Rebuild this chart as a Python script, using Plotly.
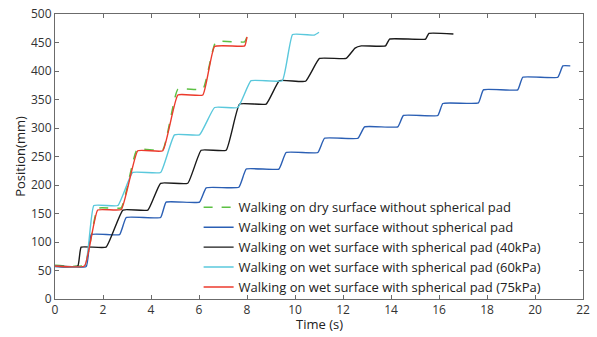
import plotly.graph_objects as go

# ---- data ----
t_dry = [0, 1.23, 1.78, 2.76, 3.42, 4.49, 5.12, 6.16, 6.70, 7.90, 8.0]
y_dry = [59, 59, 159, 160, 262, 262, 368, 368, 451, 451, 460]

t_wet = [0, 1.30, 1.51, 2.69, 2.97, 4.40, 4.63, 6.02, 6.30, 7.66, 7.97, 9.33,
         9.63, 10.95, 11.23, 12.62, 12.90, 14.28, 14.52, 15.95, 16.16, 17.64,
         17.85, 19.28, 19.49, 20.95, 21.16, 21.47]
y_wet = [57, 57, 113, 113, 143, 143, 170, 170, 195, 196, 228, 228,
         257, 257, 282, 282, 302, 302, 322, 322, 343, 344,
         367, 367, 389, 389, 409, 409]

t_40 = [0, 0.95, 1.09, 2.13, 2.83, 3.87, 4.40, 5.53, 6.09, 7.13, 7.69, 8.80,
        9.35, 10.44, 11.02, 12.13, 12.50, 12.76, 13.77, 13.94, 15.44, 15.58, 16.60]
y_40 = [58, 58, 91, 91, 156, 156, 203, 203, 261, 261, 342, 342,
        383, 382, 422, 422, 440, 444, 444, 456, 456, 466, 465]

t_60 = [0, 1.25, 1.62, 2.62, 3.24, 4.40, 4.98, 6.02, 6.65, 7.62, 8.17, 9.47,
        9.90, 10.80, 11.00]
y_60 = [58, 58, 164, 164, 222, 222, 288, 288, 336, 336, 383, 383,
        464, 463, 468]

t_75 = [0, 1.23, 1.78, 2.76, 3.45, 4.49, 5.12, 6.16, 6.65, 7.90, 8.0]
y_75 = [58, 58, 156, 157, 260, 260, 358, 358, 443, 444, 460]

names = [
    "Walking on dry surface without spherical pad",
    "Walking on wet surface without spherical pad",
    "Walking on wet surface with spherical pad (40kPa)",
    "Walking on wet surface with spherical pad (60kPa)",
    "Walking on wet surface with spherical pad (75kPa)",
]
x_ticks = list(range(0, 23, 2))
y_ticks = list(range(0, 501, 50))
x_title = "Time (s)"
y_title = "Position(mm)"

FONT = "Open Sans, Liberation Sans, Arial, sans-serif"
SHAPE = dict(shape="spline", smoothing=0.35)

fig = go.Figure()
fig.add_trace(go.Scatter(x=t_dry, y=y_dry, mode="lines", name=names[0],
                         line=dict(color="#5cc043", width=1.5, dash="dash", **SHAPE)))
fig.add_trace(go.Scatter(x=t_wet, y=y_wet, mode="lines", name=names[1],
                         line=dict(color="#2b5fb4", width=1.4, **SHAPE)))
fig.add_trace(go.Scatter(x=t_40, y=y_40, mode="lines", name=names[2],
                         line=dict(color="#1a1a1a", width=1.4, **SHAPE)))
fig.add_trace(go.Scatter(x=t_60, y=y_60, mode="lines", name=names[3],
                         line=dict(color="#5ac8dc", width=1.4, **SHAPE)))
fig.add_trace(go.Scatter(x=t_75, y=y_75, mode="lines", name=names[4],
                         line=dict(color="#ec3a2c", width=1.4, **SHAPE)))

axis_common = dict(
    showline=True, linecolor="#6b6b6b", linewidth=1, mirror="ticks",
    ticks="inside", ticklen=4, tickcolor="#6b6b6b", showgrid=False,
    zeroline=False, automargin=False,
    tickfont=dict(family=FONT, size=12, color="#333333"),
)

fig.update_layout(
    width=597, height=337,
    margin=dict(l=55, r=14, t=14, b=38),
    paper_bgcolor="white", plot_bgcolor="white",
    font=dict(family=FONT, color="#222222"),
    xaxis=dict(range=[0, 22], tickvals=x_ticks, **axis_common),
    yaxis=dict(range=[0, 500], tickvals=y_ticks,
               title=dict(text=y_title, font=dict(size=13, family=FONT), standoff=2),
               **axis_common),
    legend=dict(x=0.272, y=-0.012, xanchor="left", yanchor="bottom",
                bgcolor="rgba(255,255,255,0)", borderwidth=0,
                font=dict(family=FONT, size=13, color="#222222"),
                tracegroupgap=0),
    showlegend=True,
)
fig.add_annotation(text=x_title, xref="paper", yref="paper", x=0.5, y=0,
                   xanchor="center", yanchor="top", yshift=-14, showarrow=False,
                   font=dict(family=FONT, size=13, color="#222222"))

fig.write_html("out.html", config={"displayModeBar": False},
               post_script="document.body.style.margin='0';"
                           "document.body.style.overflow='hidden';")
